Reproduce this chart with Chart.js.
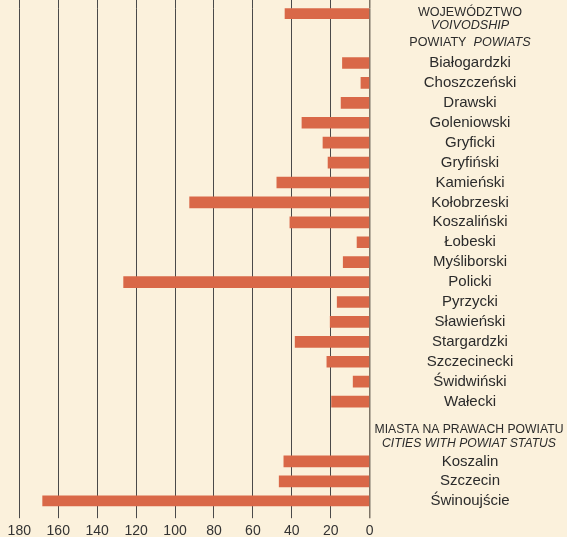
<!DOCTYPE html>
<html>
<head>
<meta charset="utf-8">
<script src="https://cdn.jsdelivr.net/npm/chart.js@4/dist/chart.umd.min.js"></script>
<style>
  html, body { margin: 0; padding: 0; background: #fbf1dc; }
  #wrap { position: relative; width: 567px; height: 537px; }
</style>
</head>
<body>
<div id="wrap"><canvas id="chart" width="567" height="537"></canvas></div>
<script>
// dane
const voivodshipLabel = 'WOJEWÓDZTWO';
const voivodshipValue = 43.5;

const powiaty = ['Białogardzki', 'Choszczeński', 'Drawski', 'Goleniowski', 'Gryficki', 'Gryfiński',
  'Kamieński', 'Kołobrzeski', 'Koszaliński', 'Łobeski', 'Myśliborski', 'Policki', 'Pyrzycki',
  'Sławieński', 'Stargardzki', 'Szczecinecki', 'Świdwiński', 'Wałecki'];
const powiatyValues = [14, 4.5, 14.7, 34.8, 24, 21.4, 47.7, 92.5, 41, 6.5, 13.6, 126.4, 16.7, 20.3, 38.3, 22, 8.5, 19.6];

const cities = ['Koszalin', 'Szczecin', 'Świnoujście'];
const citiesValues = [44.1, 46.5, 168];

const xTicks = [0, 20, 40, 60, 80, 100, 120, 140, 160, 180];

// sloty o wysokości pół wiersza
const slotLabels = [];
const slotValues = [];
function put(slot, label, value) {
  while (slotLabels.length <= slot) { slotLabels.push(''); slotValues.push(null); }
  slotLabels[slot] = label;
  slotValues[slot] = value;
}
put(0, voivodshipLabel, voivodshipValue);
powiaty.forEach((p, i) => put(5 + i * 2, p, powiatyValues[i]));
const citiesStart = 5 + powiaty.length * 2 + 4;
cities.forEach((c, i) => put(citiesStart + i * 2, c, citiesValues[i]));

const textColor = '#2b2b2b';
const font = 'Liberation Sans, Arial, sans-serif';

const background = {
  id: 'background',
  beforeDraw(chart) {
    const ctx = chart.ctx;
    ctx.save();
    ctx.fillStyle = '#fbf1dc';
    ctx.fillRect(0, 0, chart.width, chart.height);
    ctx.restore();
  }
};

// etykiety po prawej stronie
const rightLabels = {
  id: 'rightLabels',
  afterDraw(chart) {
    const ctx = chart.ctx;
    const y = chart.scales.y;
    const cx = 470;
    ctx.save();
    ctx.fillStyle = textColor;
    ctx.textAlign = 'center';
    ctx.textBaseline = 'middle';

    slotLabels.forEach((label, i) => {
      if (!label || i === 0) return;
      ctx.font = '15px ' + font;
      ctx.fillText(label, cx, y.getPixelForValue(i));
    });

    const y0 = y.getPixelForValue(0) - 1;
    ctx.font = '12.6px ' + font;
    ctx.fillText(voivodshipLabel, cx, y0);
    ctx.font = 'italic 12.6px ' + font;
    ctx.fillText('VOIVODSHIP', cx, y0 + 13.3);

    // POWIATY  POWIATS
    const yp = y0 + 30.7;
    ctx.font = '12.6px ' + font;
    const a = 'POWIATY  ';
    const wa = ctx.measureText(a).width;
    ctx.font = 'italic 12.6px ' + font;
    const b = 'POWIATS';
    const wb = ctx.measureText(b).width;
    ctx.textAlign = 'left';
    const left = cx - (wa + wb) / 2;
    ctx.font = '12.6px ' + font;
    ctx.fillText(a, left, yp);
    ctx.font = 'italic 12.6px ' + font;
    ctx.fillText(b, left + wa, yp);

    ctx.textAlign = 'center';
    const ym = y.getPixelForValue(citiesStart) - 31.5;
    ctx.font = '12.2px ' + font;
    ctx.fillText('MIASTA NA PRAWACH POWIATU', cx - 1, ym);
    ctx.font = 'italic 12.2px ' + font;
    ctx.fillText('CITIES WITH POWIAT STATUS', cx - 1, ym + 13.7);
    ctx.restore();
  }
};

const gridColor = (c) => (c.tick && c.tick.value === 0 ? '#7d7466' : '#4a4a4a');
const gridWidth = (c) => (c.tick && c.tick.value === 0 ? 1.5 : 1);

new Chart(document.getElementById('chart'), {
  type: 'bar',
  data: {
    labels: slotLabels,
    datasets: [{
      data: slotValues,
      backgroundColor: '#d96848',
      borderWidth: 0,
      barThickness: 11
    }]
  },
  plugins: [background, rightLabels],
  options: {
    indexAxis: 'y',
    responsive: false,
    animation: false,
    devicePixelRatio: 1,
    layout: { padding: { left: 19.3, right: 197.3, top: 0, bottom: 0 } },
    plugins: {
      legend: { display: false },
      tooltip: { enabled: false }
    },
    scales: {
      x: {
        reverse: true,
        min: 0,
        max: 180,
        afterBuildTicks: (scale) => { scale.ticks = xTicks.map(v => ({ value: v })); },
        ticks: {
          color: '#333',
          font: { family: font, size: 14 },
          padding: 5,
          maxRotation: 0,
          autoSkip: false
        },
        grid: {
          color: gridColor,
          lineWidth: gridWidth,
          tickLength: 12,
          tickColor: gridColor
        },
        border: { display: false },
        afterFit: (scale) => { scale.height = 30.8; }
      },
      xTop: {
        position: 'top',
        reverse: true,
        min: 0,
        max: 180,
        afterBuildTicks: (scale) => { scale.ticks = xTicks.map(v => ({ value: v })); },
        ticks: { display: false, autoSkip: false },
        grid: {
          drawOnChartArea: false,
          tickLength: 9,
          color: gridColor,
          lineWidth: gridWidth
        },
        border: { display: false },
        afterFit: (scale) => { scale.height = 8.2; }
      },
      y: {
        display: false
      }
    }
  }
});
</script>
</body>
</html>
